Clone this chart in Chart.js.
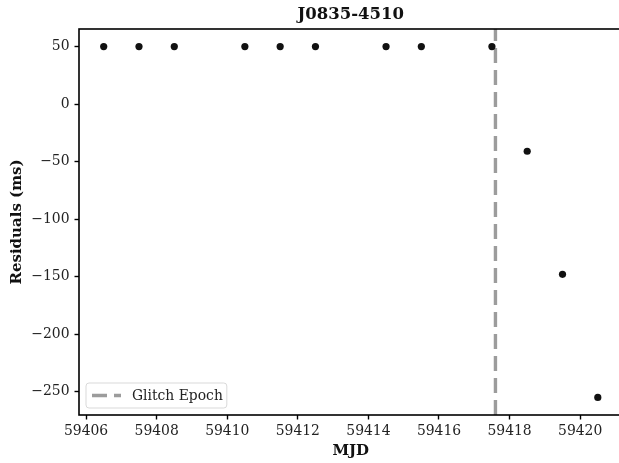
<!DOCTYPE html>
<html>
<head>
<meta charset="utf-8">
<script src="https://cdn.jsdelivr.net/npm/chart.js@4"></script>
<style>
  html, body { margin: 0; padding: 0; background: #ffffff; }
  #wrap { width: 619px; height: 463px; overflow: hidden; }
</style>
</head>
<body>
<div id="wrap"><canvas id="c" width="619" height="463"></canvas></div>
<script>
// Timing residuals of the Vela pulsar around the glitch
const pulsarName = 'J0835-4510';
const mjd = [59406.5, 59407.5, 59408.5, 59410.5, 59411.5, 59412.5, 59414.5, 59415.5, 59417.5, 59418.5, 59419.5, 59420.5];
const residualsMs = [50, 50, 50, 50, 50, 50, 50, 50, 50, -41, -148, -255];
const glitchEpoch = 59417.6;
const xTicks = [59406, 59408, 59410, 59412, 59414, 59416, 59418, 59420];
const yTicks = [50, 0, -50, -100, -150, -200, -250];

// 5% padding around the data on both axes
const pad = (arr) => {
  const lo = Math.min(...arr), hi = Math.max(...arr);
  const m = (hi - lo) * 0.05;
  return [lo - m, hi + m];
};
const [xMin, xMax] = pad(mjd);
const [yMin, yMax] = pad(residualsMs);

const serif = "'DejaVu Serif', serif";
const minus = (v) => String(v).replace('-', '\u2212');

const points = mjd.map((x, i) => ({ x, y: residualsMs[i] }));

// The axes box runs a few pixels past the right edge of the canvas,
// so its right spine is cut off.
const rightOverhang = 3.5;
const overhangPlugin = {
  id: 'overhang',
  afterLayout(chart) {
    const xs = chart.scales.x;
    xs.right += rightOverhang;
    xs.width += rightOverhang;
    xs.configure();
    chart.chartArea.right += rightOverhang;
    chart.chartArea.width += rightOverhang;
  }
};

// Frame around the plotting area
const framePlugin = {
  id: 'frame',
  afterDatasetsDraw(chart) {
    const a = chart.chartArea, ctx = chart.ctx;
    ctx.save();
    ctx.strokeStyle = '#000';
    ctx.lineWidth = 1.6;
    ctx.strokeRect(a.left, a.top, a.right - a.left, a.bottom - a.top);
    ctx.restore();
  }
};

// Title centred over the plotting area
const titlePlugin = {
  id: 'axesTitle',
  afterDraw(chart) {
    const a = chart.chartArea, ctx = chart.ctx;
    ctx.save();
    ctx.font = "bold 16.5px " + serif;
    ctx.fillStyle = '#111';
    ctx.textAlign = 'center';
    ctx.textBaseline = 'middle';
    ctx.fillText(pulsarName, (a.left + a.right) / 2, 15);
    ctx.restore();
  }
};

// Legend box in the lower-left corner of the plotting area
const legendPlugin = {
  id: 'cornerLegend',
  afterDatasetsDraw(chart) {
    const a = chart.chartArea, ctx = chart.ctx;
    const ds = chart.data.datasets[1];
    ctx.save();
    ctx.font = "13.9px " + serif;
    const tw = ctx.measureText(ds.label).width;
    const x = a.left + 7, h = 25, w = 46 + tw + 4;
    const y = a.bottom - 7 - h;
    ctx.beginPath();
    ctx.roundRect(x, y, w, h, 3);
    ctx.fillStyle = 'rgba(255,255,255,0.8)';
    ctx.fill();
    ctx.strokeStyle = '#d9d9d9';
    ctx.lineWidth = 1;
    ctx.stroke();
    ctx.beginPath();
    ctx.setLineDash(ds.borderDash);
    ctx.strokeStyle = ds.borderColor;
    ctx.lineWidth = ds.borderWidth;
    ctx.moveTo(x + 6, y + h / 2);
    ctx.lineTo(x + 35, y + h / 2);
    ctx.stroke();
    ctx.setLineDash([]);
    ctx.fillStyle = '#222';
    ctx.textBaseline = 'middle';
    ctx.fillText(ds.label, x + 46, y + h / 2 + 1);
    ctx.restore();
  }
};

const tickFont = { family: serif, size: 13.9 };
const titleFont = { family: serif, size: 15, weight: 'bold' };

new Chart(document.getElementById('c'), {
  type: 'scatter',
  data: {
    datasets: [
      {
        label: 'Residuals',
        data: points,
        pointRadius: 3.6,
        pointHoverRadius: 3.6,
        backgroundColor: '#111',
        borderWidth: 0
      },
      {
        type: 'line',
        label: 'Glitch Epoch',
        data: [{ x: glitchEpoch, y: yMin }, { x: glitchEpoch, y: yMax }],
        borderColor: '#9c9c9c',
        borderWidth: 3.4,
        borderDash: [15, 7],
        pointRadius: 0,
        fill: false
      }
    ]
  },
  options: {
    responsive: false,
    animation: false,
    devicePixelRatio: 1,
    layout: { autoPadding: false, padding: { top: 29, right: 0, left: 0, bottom: 0 } },
    plugins: {
      legend: { display: false },
      title: { display: false },
      tooltip: { enabled: false }
    },
    scales: {
      x: {
        type: 'linear',
        min: xMin,
        max: xMax,
        afterFit(s) {
          s.height = 48;
          s.paddingLeft = 0;
          s.paddingRight = 0;
        },
        afterBuildTicks(s) { s.ticks = xTicks.map(v => ({ value: v })); },
        border: { display: false },
        grid: { display: true, drawOnChartArea: false, drawTicks: true, tickLength: 4.5, tickColor: '#000', tickWidth: 1.4 },
        ticks: { font: tickFont, color: '#222', padding: 4, maxRotation: 0, callback: v => String(v) },
        title: { display: true, text: 'MJD', font: titleFont, color: '#111', padding: { top: 3, bottom: 3 } }
      },
      y: {
        type: 'linear',
        min: yMin,
        max: yMax,
        afterFit(s) {
          s.width = 79;
          s.paddingTop = 0;
          s.paddingBottom = 0;
        },
        afterBuildTicks(s) { s.ticks = yTicks.map(v => ({ value: v })); },
        border: { display: false },
        grid: { display: true, drawOnChartArea: false, drawTicks: true, tickLength: 4.5, tickColor: '#000', tickWidth: 1.4 },
        ticks: { font: tickFont, color: '#222', padding: 5, callback: v => minus(v) },
        title: { display: true, text: 'Residuals (ms)', font: titleFont, color: '#111', padding: { top: 8, bottom: 0 } }
      }
    }
  },
  plugins: [overhangPlugin, framePlugin, legendPlugin, titlePlugin]
});
</script>
</body>
</html>
